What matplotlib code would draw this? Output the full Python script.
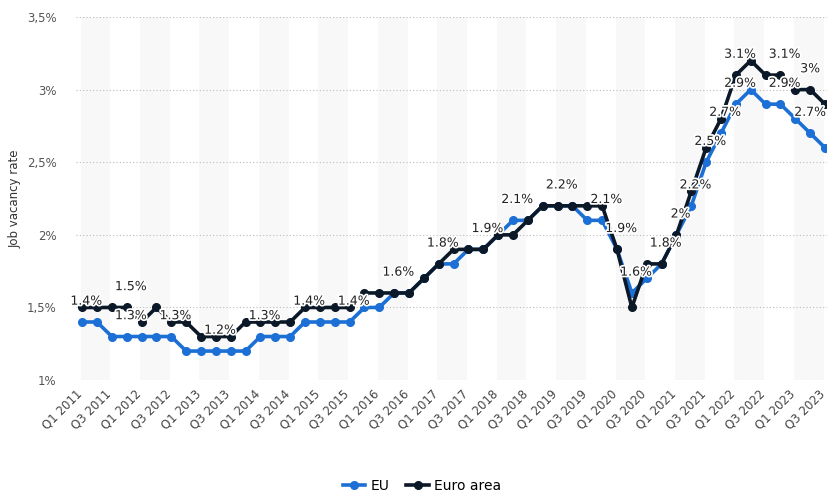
import numpy as np
import matplotlib.pyplot as plt
import matplotlib.patheffects as pe
from matplotlib.transforms import ScaledTranslation

# quarterly job vacancy rate, Q1 2011 - Q3 2023
quarters = [f"Q{q} {y}" for y in range(2011, 2024) for q in range(1, 5)][:51]

eu = [1.4, 1.4, 1.3, 1.3, 1.3, 1.3, 1.3, 1.2, 1.2, 1.2,
      1.2, 1.2, 1.3, 1.3, 1.3, 1.4, 1.4, 1.4, 1.4, 1.5,
      1.5, 1.6, 1.6, 1.7, 1.8, 1.8, 1.9, 1.9, 2.0, 2.1,
      2.1, 2.2, 2.2, 2.2, 2.1, 2.1, 1.9, 1.6, 1.7, 1.8,
      2.0, 2.2, 2.5, 2.7, 2.9, 3.0, 2.9, 2.9, 2.8, 2.7,
      2.6]
euro_area = [1.5, 1.5, 1.5, 1.5, 1.4, 1.5, 1.4, 1.4, 1.3, 1.3,
             1.3, 1.4, 1.4, 1.4, 1.4, 1.5, 1.5, 1.5, 1.5, 1.6,
             1.6, 1.6, 1.6, 1.7, 1.8, 1.9, 1.9, 1.9, 2.0, 2.0,
             2.1, 2.2, 2.2, 2.2, 2.2, 2.2, 1.9, 1.5, 1.8, 1.8,
             2.0, 2.3, 2.6, 2.8, 3.1, 3.2, 3.1, 3.1, 3.0, 3.0,
             2.9]

# which points get a value label
eu_labels = [0, 3, 6, 9, 12, 15, 18, 21, 27, 29, 32, 35, 36, 37, 39, 40,
             41, 42, 43, 44, 47, 49]
euro_labels = [3, 24, 44, 47, 49]

blue = "#1b6fd5"
navy = "#0b1828"

fig = plt.figure(figsize=(8.28, 4.93), dpi=100)
ax = fig.add_axes([0.092, 0.229, 0.908, 0.7365])

x = np.arange(len(quarters))

# light alternating column bands
for start in range(0, len(quarters), 4):
    ax.axvspan(start - 0.1, start + 1.9, color="#f8f8f8", zorder=0, lw=0)

ax.plot(x, eu, color=blue, lw=2.6, marker="o", ms=5.5, label="EU", zorder=3)
ax.plot(x, euro_area, color=navy, lw=2.6, marker="o", ms=5.5,
        label="Euro area", zorder=4)

halo = [pe.withStroke(linewidth=2.5, foreground="white")]


def pct(v):
    return f"{v:g}%"


def label(series, idxs):
    for i in idxs:
        dx = 0 if i >= 49 else 3
        ax.annotate(pct(series[i]), (x[i], series[i]), xytext=(dx, 15),
                    textcoords="offset points", ha="center", va="center",
                    fontsize=9, color="#222222", path_effects=halo, zorder=6)


label(eu, eu_labels)
label(euro_area, euro_labels)

ax.set_xlim(-0.4, 50.2)
ax.set_ylim(1, 3.5)
ax.set_yticks([1, 1.5, 2, 2.5, 3, 3.5])
ax.set_yticklabels(["1%", "1,5%", "2%", "2,5%", "3%", "3,5%"],
                   fontsize=8.5, color="#555555")

# rotated quarter labels, nudged a little left of each tick
ax.set_xticks(x[::2])
ax.set_xticklabels([])
tick_trans = ax.get_xaxis_transform() + ScaledTranslation(-5 / 72, -5 / 72,
                                                          fig.dpi_scale_trans)
for i in x[::2]:
    ax.text(i, 0, quarters[i], transform=tick_trans, rotation=45,
            ha="right", va="top", rotation_mode="anchor", fontsize=8.5,
            color="#444444", clip_on=False)

ax.tick_params(axis="y", length=0, pad=14)
ax.tick_params(axis="x", length=0)
ax.grid(axis="y", color="#bbbbbb", linestyle=(0, (1, 2)), lw=0.8)
ax.set_axisbelow(True)
for s in ax.spines.values():
    s.set_visible(False)

ax.set_ylabel("Job vacancy rate", fontsize=8.5, color="#333333", labelpad=4)

fig.legend(loc="center", bbox_to_anchor=(0.51, 0.015), ncol=2, frameon=False,
           fontsize=10, handlelength=1.6, columnspacing=1.2, handletextpad=0.4)

fig.savefig("out.png", dpi=100)
